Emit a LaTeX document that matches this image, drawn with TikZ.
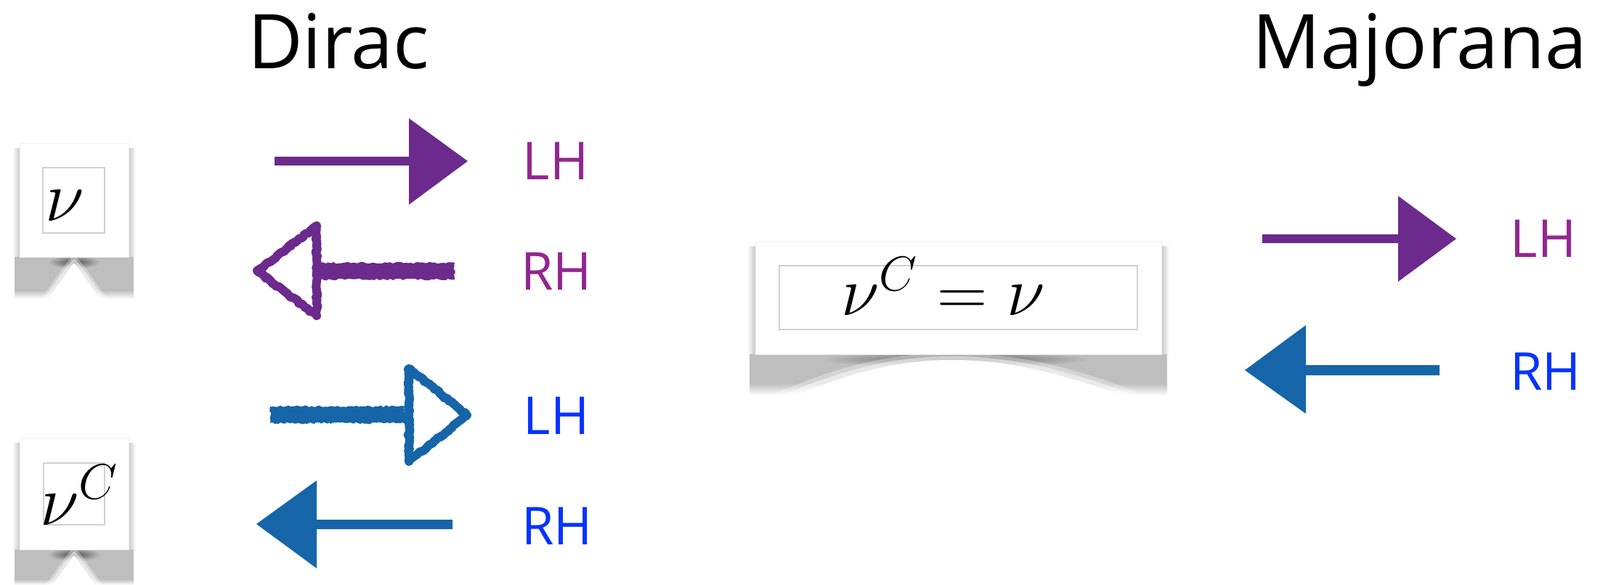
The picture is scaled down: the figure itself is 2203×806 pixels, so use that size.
\RequirePackage{fix-cm}
\documentclass[tikz,border=0pt]{standalone}
\usepackage{fontspec}
\newfontfamily\chalk{Open Sans}
\usetikzlibrary{decorations.pathmorphing}
\definecolor{purpleA}{RGB}{107,42,140}
\definecolor{purpleT}{RGB}{146,39,143}
\definecolor{blueA}{RGB}{21,101,168}
\definecolor{blueT}{RGB}{4,51,255}
\definecolor{legG}{RGB}{190,190,190}
\tikzset{
  title/.style={font=\chalk\fontsize{52}{52}\selectfont, anchor=base, inner sep=0pt},
  lab/.style={font=\chalk\fontsize{36}{36}\selectfont, anchor=base, inner sep=0pt},
  mathlab/.style={font=\fontsize{49}{49}\selectfont, anchor=base west, inner sep=0pt},
  card/.style={fill=white, draw=black!6, line width=0.4pt},
  inner/.style={draw=black!18, line width=0.6pt},
  sketch/.style={decorate, decoration={random steps, segment length=1.5pt, amplitude=0.7pt}},
  headline/.style={line width=6pt, line join=round, fill=white},
}
\begin{document}
\begin{tikzpicture}[x=0.5pt,y=-0.5pt]
\useasboundingbox[fill=white] (0,0) rectangle (2203,806);

% ---------- card shadows ----------
% card nu
\shade[left color=white,right color=black!22] (17,205) rectangle (27,354);
\shade[left color=black!22,right color=white] (177,205) rectangle (187,354);
\fill[legG] (20,354) rectangle (184,400);
\shade[top color=legG,bottom color=white] (20,400) rectangle (184,412);
\shade[inner color=black!70, outer color=legG] (66,352) rectangle (138,370);
\fill[white,opacity=0.35] (56,412) -- (92,362) .. controls (102,350) .. (112,362) -- (148,412) -- cycle;
\fill[white,opacity=0.5] (60,412) -- (94,365) .. controls (102,355) .. (110,365) -- (144,412) -- cycle;
\fill[white] (66,412) -- (96,370) .. controls (102,361) .. (108,370) -- (138,412) -- cycle;
% card nuC
\shade[left color=white,right color=black!22] (17,610) rectangle (27,757);
\shade[left color=black!22,right color=white] (177,610) rectangle (187,757);
\fill[legG] (20,757) rectangle (184,800);
\shade[top color=legG,bottom color=white] (20,798) rectangle (184,806);
\shade[inner color=black!70, outer color=legG] (66,755) rectangle (138,773);
\fill[white,opacity=0.35] (56,815) -- (92,765) .. controls (102,753) .. (112,765) -- (148,815) -- cycle;
\fill[white,opacity=0.5] (60,815) -- (94,768) .. controls (102,758) .. (110,768) -- (144,815) -- cycle;
\fill[white] (66,815) -- (96,773) .. controls (102,764) .. (108,773) -- (138,815) -- cycle;
% center card
\shade[left color=white,right color=black!22] (1029,340) rectangle (1040,488);
\shade[left color=black!22,right color=white] (1599,340) rectangle (1610,488);
\fill[legG] (1032,488) rectangle (1607,530);
\shade[top color=legG,bottom color=white] (1032,528) rectangle (1607,545);
\shade[inner color=black!65, outer color=legG] (1130,484) rectangle (1500,506);
\fill[white,opacity=0.35] (1050,550) .. controls (1160,500) and (1230,487) .. (1311,487) .. controls (1390,487) and (1470,500) .. (1590,550) -- cycle;
\fill[white,opacity=0.5] (1062,550) .. controls (1170,505) and (1235,491) .. (1311,491) .. controls (1385,491) and (1460,505) .. (1578,550) -- cycle;
\fill[white] (1080,550) .. controls (1180,510) and (1240,496) .. (1311,496) .. controls (1380,496) and (1450,510) .. (1560,550) -- cycle;

% ---------- cards ----------
\node[card, minimum width=75pt, minimum height=78.5pt, inner sep=0pt] (cardnu) at (102,275.5) {};
\draw[inner] (59,231) rectangle (144,321);
\node[mathlab] (nu) at (62,305) {$\nu$};

\node[card, minimum width=75pt, minimum height=76.5pt, inner sep=0pt] (cardnuc) at (102,680.5) {};
\draw[inner] (60,638) rectangle (144,723);
\node[mathlab] (nuc) at (55,723) {$\nu^C$};

\node[card, minimum width=279.5pt, minimum height=78pt, inner sep=0pt] (cardeq) at (1319.5,410) {};
\draw[inner] (1073,366) rectangle (1566,454);
\node[mathlab, font=\fontsize{48}{48}\selectfont] (eq) at (1158,435) {$\nu^C=\nu$};

% ---------- titles ----------
\node[title] (dirac) at (466,95) {Dirac};
\node[title] (majorana) at (1955,95) {Majorana};

% ---------- Dirac arrows ----------
\fill[purpleA] (378,216) -- (563,216) -- (563,163) -- (644,222) -- (563,282) -- (563,228) -- (378,228) -- cycle;
\node[lab, text=purpleT] (lh1) at (765,248) {LH};

\fill[purpleA, sketch] (440,362) rectangle (626,385);
\draw[purpleA, headline, sketch] (436,311) -- (354,373) -- (436,435) -- cycle;
\node[lab, text=purpleT] (rh1) at (766,400) {RH};

\fill[blueA, sketch] (372,560) rectangle (557,583);
\draw[blueA, headline, sketch] (563,508) -- (643,572) -- (563,636) -- cycle;
\node[lab, text=blueT] (lh2) at (766,598) {LH};

\fill[blueA] (623,716) -- (436,716) -- (436,662) -- (353,722) -- (436,783) -- (436,729) -- (623,729) -- cycle;
\node[lab, text=blueT] (rh2) at (767,750) {RH};

% ---------- Majorana arrows ----------
\fill[purpleA] (1738,323) -- (1925,323) -- (1925,270) -- (2005,329) -- (1925,388) -- (1925,335) -- (1738,335) -- cycle;
\node[lab, text=purpleT] (lh3) at (2125,355) {LH};

\fill[blueA] (1982,503) -- (1798,503) -- (1798,448) -- (1714,510) -- (1798,570) -- (1798,517) -- (1982,517) -- cycle;
\node[lab, text=blueT] (rh3) at (2128,537) {RH};
\end{tikzpicture}
\end{document}
